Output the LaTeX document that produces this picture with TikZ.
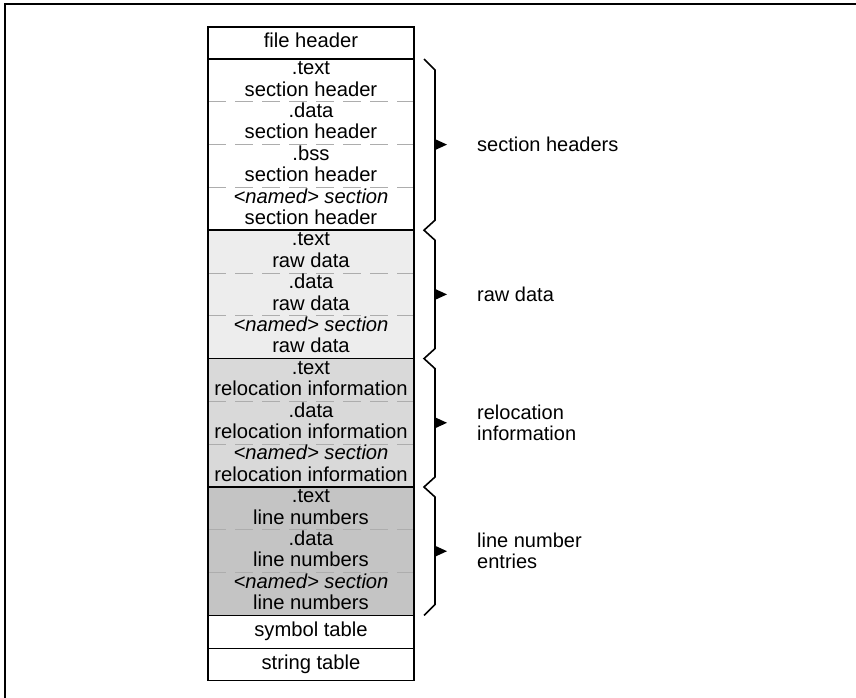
\documentclass[tikz,border=0pt]{standalone}
\usepackage{fontspec}
\setmainfont{Liberation Sans}
\usetikzlibrary{positioning, calc, backgrounds}

\tikzset{
	row/.style={minimum width=206pt, minimum height=21.4pt, inner sep=0pt, outer sep=0pt,
		text height=14.5pt, text depth=4.5pt, font=\fontsize{20.2}{21}\selectfont},
	tbl/.style={line width=1.7pt},
	frame/.style={line width=2pt},
	divider/.style={draw=black!32, line width=0.7pt, dash pattern=on 18pt off 9pt},
	bracepath/.style={line width=1.6pt, line join=miter},
	sidetext/.style={inner sep=0pt, align=left, font=\fontsize{20}{21}\selectfont},
	rawfill/.style={fill=black!7},
	relfill/.style={fill=black!15},
	linfill/.style={fill=black!23}
}

\begin{document}
\begin{tikzpicture}[x=1pt, y=-1pt]

	\useasboundingbox (0,0) rectangle (856,698);
	\clip (0,0) rectangle (856,698);
	\draw[frame] (4.5,4.5) rectangle (880,720);

	% file header
	\node[row, minimum height=32pt] (fh) at (311,43) {file header};

	% section headers
	\node[row, below=0pt of fh] (sh1) {.text};
	\node[row, below=0pt of sh1] (sh2) {section header};
	\node[row, below=0pt of sh2] (sh3) {.data};
	\node[row, below=0pt of sh3] (sh4) {section header};
	\node[row, below=0pt of sh4] (sh5) {.bss};
	\node[row, below=0pt of sh5] (sh6) {section header};
	\node[row, below=0pt of sh6] (sh7) {\textit{<named> section}};
	\node[row, below=0pt of sh7] (sh8) {section header};

	% raw data
	\node[row, below=0pt of sh8] (rd1) {.text};
	\node[row, below=0pt of rd1] (rd2) {raw data};
	\node[row, below=0pt of rd2] (rd3) {.data};
	\node[row, below=0pt of rd3] (rd4) {raw data};
	\node[row, below=0pt of rd4] (rd5) {\textit{<named> section}};
	\node[row, below=0pt of rd5] (rd6) {raw data};

	% relocation information
	\node[row, below=0pt of rd6] (ri1) {.text};
	\node[row, below=0pt of ri1] (ri2) {relocation information};
	\node[row, below=0pt of ri2] (ri3) {.data};
	\node[row, below=0pt of ri3] (ri4) {relocation information};
	\node[row, below=0pt of ri4] (ri5) {\textit{<named> section}};
	\node[row, below=0pt of ri5] (ri6) {relocation information};

	% line numbers
	\node[row, below=0pt of ri6] (ln1) {.text};
	\node[row, below=0pt of ln1] (ln2) {line numbers};
	\node[row, below=0pt of ln2] (ln3) {.data};
	\node[row, below=0pt of ln3] (ln4) {line numbers};
	\node[row, below=0pt of ln4] (ln5) {\textit{<named> section}};
	\node[row, below=0pt of ln5] (ln6) {line numbers};

	% tables
	\node[row, minimum height=33pt, below=0pt of ln6] (sym) {symbol table};
	\node[row, minimum height=32pt, below=0pt of sym] (str) {string table};

	% shading and dividers behind the text
	\begin{scope}[on background layer]
		\fill[rawfill] (rd1.north west) rectangle (rd6.south east);
		\fill[relfill] (ri1.north west) rectangle (ri6.south east);
		\fill[linfill] (ln1.north west) rectangle (ln6.south east);
		\draw[divider] (sh2.south west) -- (sh2.south east);
		\draw[divider] (sh4.south west) -- (sh4.south east);
		\draw[divider] (sh6.south west) -- (sh6.south east);
		\draw[divider] (rd2.south west) -- (rd2.south east);
		\draw[divider] (rd4.south west) -- (rd4.south east);
		\draw[divider] (ri2.south west) -- (ri2.south east);
		\draw[divider] (ri4.south west) -- (ri4.south east);
		\draw[divider] (ln2.south west) -- (ln2.south east);
		\draw[divider] (ln4.south west) -- (ln4.south east);
	\end{scope}

	\draw[tbl] (fh.north west) rectangle (str.south east);
	\draw[tbl] (fh.south west) -- (fh.south east);
	\draw[tbl] (sh8.south west) -- (sh8.south east);
	\draw[tbl] (rd6.south west) -- (rd6.south east);
	\draw[tbl] (ri6.south west) -- (ri6.south east);
	\draw[tbl] (ln6.south west) -- (ln6.south east);
	\draw[tbl] (sym.south west) -- (sym.south east);

	% braces
	\coordinate (b0) at ([xshift=10pt]sh1.north east);
	\coordinate (b1) at ([xshift=10pt]sh8.south east);
	\coordinate (b2) at ([xshift=10pt]rd6.south east);
	\coordinate (b3) at ([xshift=10pt]ri6.south east);
	\coordinate (b4) at ([xshift=10pt]ln6.south east);
	\draw[bracepath] (b0) -- ++(11,11) -- ($(b1)+(11,-10)$) -- (b1)
		-- ++(11,10) -- ($(b2)+(11,-10)$) -- (b2)
		-- ++(11,10) -- ($(b3)+(11,-10)$) -- (b3)
		-- ++(11,10) -- ($(b4)+(11,-11)$) -- (b4);

	\coordinate (m1) at ([xshift=21pt]sh4.south east);
	\coordinate (m2) at ([xshift=21pt]rd3.south east);
	\coordinate (m3) at ([xshift=21pt]ri3.south east);
	\coordinate (m4) at ([xshift=21pt]ln3.south east);
	\fill (m1) ++(0,-5.5) -- ++(12,5.5) -- ++(-12,5.5) -- cycle;
	\fill (m2) ++(0,-5.5) -- ++(12,5.5) -- ++(-12,5.5) -- cycle;
	\fill (m3) ++(0,-5.5) -- ++(12,5.5) -- ++(-12,5.5) -- cycle;
	\fill (m4) ++(0,-5.5) -- ++(12,5.5) -- ++(-12,5.5) -- cycle;

	% labels
	\node[sidetext, right=42pt of m1] (t1) {section headers};
	\node[sidetext, right=42pt of m2] (t2) {raw data};
	\node[sidetext, right=42pt of m3] (t3) {relocation\\information};
	\node[sidetext, right=42pt of m4] (t4) {line number\\entries};
\end{tikzpicture}
\end{document}
